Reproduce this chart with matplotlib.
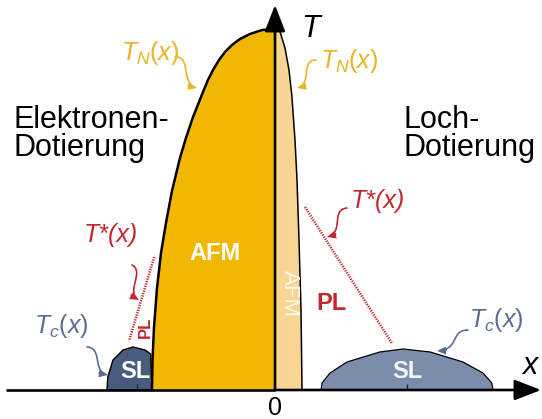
import matplotlib
matplotlib.use("Agg")
import numpy as np
import matplotlib.pyplot as plt

plt.rcParams["font.family"] = ["Liberation Sans", "DejaVu Sans"]
plt.rcParams["mathtext.fontset"] = "custom"
plt.rcParams["mathtext.it"] = "Liberation Sans:italic"
plt.rcParams["mathtext.rm"] = "Liberation Sans"

# --- phase boundaries (doping x, temperature T) ---
# Neel line, electron-doped side
afm_e_x = [0, -0.0163, -0.0313, -0.0438, -0.0538, -0.0625, -0.070, -0.0775, -0.0838,
           -0.090, -0.1025, -0.1113, -0.1188, -0.1288, -0.1363, -0.1425, -0.1475,
           -0.1513, -0.1531, -0.1538]
afm_e_T = [361, 360, 356, 351, 345, 338, 330, 320, 310, 298, 273, 252, 232, 199,
           167, 137, 102, 62, 30, 0]
# Neel line, hole-doped side
afm_h_x = [0, 0.006, 0.0125, 0.0175, 0.021, 0.025, 0.0275, 0.030, 0.0325, 0.0338]
afm_h_T = [361, 359, 342, 320, 295, 250, 210, 150, 80, 0]
# superconducting domes
sc_e_x = [-0.210, -0.209, -0.2025, -0.190, -0.1775, -0.1625, -0.1555, -0.1537]
sc_e_T = [0, 13, 30, 40, 43, 40, 36, 0]
sc_h_x = [0.0575, 0.0588, 0.0688, 0.090, 0.131, 0.160, 0.194, 0.235, 0.260, 0.271, 0.2725]
sc_h_T = [0, 7, 17, 28, 38, 41, 38, 28, 17, 7, 0]
# pseudogap crossover T*
tstar_e_x = [-0.151, -0.1825]
tstar_e_T = [133, 49]
tstar_h_x = [0.0375, 0.146]
tstar_h_T = [183, 47]
# optimal doping markers
opt_x = [-0.1725, 0.165]

GOLD = "#F2B700"
GOLD_LIGHT = "#F8D592"
GOLD_TEXT = "#E9B523"
SC_DARK = "#4A5C7E"
SC_LIGHT = "#7B8DAB"
SLATE = "#5B6E90"
RED = "#C1272D"

fig = plt.figure(figsize=(5.42, 4.19), dpi=100)
ax = fig.add_axes([0, 0, 1, 1])
ax.set_xlim(-275 / 800, 267 / 800)
ax.set_ylim(-29, 390)
ax.axis("off")


def fig_pt(u, v):
    """Figure pixel (from top-left) -> data coordinates."""
    return ((u - 275) / 800, 390 - v)


# antiferromagnetic regions
ax.fill(afm_e_x + [0], afm_e_T + [0], color=GOLD, lw=0, zorder=1)
ax.fill(afm_h_x + [0], afm_h_T + [0], color=GOLD_LIGHT, lw=0, zorder=1)
ax.plot(afm_e_x, afm_e_T, color="black", lw=1.8, zorder=3, solid_joinstyle="round")
ax.plot(afm_h_x, afm_h_T, color="black", lw=1.1, zorder=3, solid_joinstyle="round")

# superconducting domes
ax.fill(sc_e_x, sc_e_T, facecolor=SC_DARK, edgecolor="black", lw=1.0, zorder=2)
ax.fill(sc_h_x, sc_h_T, facecolor=SC_LIGHT, edgecolor="black", lw=0.9, zorder=2)
ax.vlines(opt_x, 0, 6, color="#222222", lw=1.0, zorder=3)

# T* lines
ax.plot(tstar_e_x, tstar_e_T, color=RED, lw=1.8, ls=(0, (0.5, 0.5)), zorder=2)
ax.plot(tstar_h_x, tstar_h_T, color=RED, lw=1.8, ls=(0, (0.5, 0.5)), zorder=2)

# axes with arrows
for tip in (fig_pt(541, 390), fig_pt(275, 5)):
    ax.annotate("", xy=tip, xytext=(0, 0),
                arrowprops=dict(arrowstyle="-|>,head_length=0.9,head_width=0.35",
                                color="black", lw=1.9, mutation_scale=18,
                                shrinkA=0, shrinkB=0), zorder=5)
ax.plot([fig_pt(6, 390)[0], 0], [0, 0], color="black", lw=1.9, zorder=5,
        solid_capstyle="butt")

# text
big = 22
ax.text(*fig_pt(13, 128), "Elektronen-", fontsize=big, ha="left", va="baseline")
ax.text(*fig_pt(13, 156), "Dotierung", fontsize=big, ha="left", va="baseline")
ax.text(*fig_pt(404, 128), "Loch-", fontsize=big, ha="left", va="baseline")
ax.text(*fig_pt(404, 156), "Dotierung", fontsize=big, ha="left", va="baseline")
ax.text(*fig_pt(301, 37), "T", fontsize=22, style="italic", ha="left", va="baseline")
ax.text(*fig_pt(522, 374), "x", fontsize=22, style="italic", ha="left", va="baseline")
ax.text(*fig_pt(275, 415), "0", fontsize=18, ha="center", va="baseline")

ax.text(*fig_pt(215, 254), "AFM", fontsize=17, weight="bold", color="white",
        ha="center", va="center", zorder=4)
ax.text(*fig_pt(289, 294), "AFM", fontsize=16, color="#FFF9EE", rotation=-90,
        ha="center", va="center", zorder=4)
ax.text(*fig_pt(331, 304), "PL", fontsize=17, weight="bold", color=RED,
        ha="center", va="center")
ax.text(*fig_pt(145, 327), "PL", fontsize=12, weight="bold", color=RED,
        rotation=90, ha="center", va="center")
ax.text(*fig_pt(135, 371), "SL", fontsize=17, weight="bold", color="white",
        ha="center", va="center", zorder=4)
ax.text(*fig_pt(407, 371), "SL", fontsize=17, weight="bold", color="#F4F6FA",
        ha="center", va="center", zorder=4)

lab = 18
ax.text(*fig_pt(121, 60), r"$T_{N}\mathit{(x)}$", fontsize=lab, color=GOLD_TEXT, va="baseline")
ax.text(*fig_pt(320, 68), r"$T_{N}\mathit{(x)}$", fontsize=lab, color=GOLD_TEXT, va="baseline")
ax.text(*fig_pt(84, 242), "T*(x)", fontsize=lab, style="italic", color=RED, va="baseline")
ax.text(*fig_pt(351, 208), "T*(x)", fontsize=lab, style="italic", color=RED, va="baseline")
ax.text(*fig_pt(34, 333), r"$T_{c}\mathit{(x)}$", fontsize=lab, color=SLATE, va="baseline")
ax.text(*fig_pt(469, 327), r"$T_{c}\mathit{(x)}$", fontsize=lab, color=SLATE, va="baseline")

# curly pointer arrows: cubic Bezier in pixel space, flattened, with a filled head
squiggles = [
    ([(175, 57), (192, 56), (180, 84), (197, 88)], GOLD_TEXT),
    ([(316, 60), (300, 60), (313, 84), (297, 88)], GOLD_TEXT),
    ([(132, 265), (145, 272), (125, 292), (139, 300)], RED),
    ([(347, 208), (330, 210), (345, 232), (327, 237)], RED),
    ([(87, 347), (103, 348), (92, 372), (108, 375)], SLATE),
    ([(468, 330), (450, 330), (460, 350), (437, 351)], SLATE),
]
s = np.linspace(0, 1, 60)[:, None]
head_len, head_half = 9.0, 4.0
for pts, col in squiggles:
    p = np.array(pts, dtype=float)
    curve = ((1 - s) ** 3 * p[0] + 3 * (1 - s) ** 2 * s * p[1]
             + 3 * (1 - s) * s ** 2 * p[2] + s ** 3 * p[3])
    tip = curve[-1]
    d = tip - p[2]
    d /= np.hypot(*d)
    n = np.array([-d[1], d[0]])
    base = tip - head_len * d
    keep = np.hypot(*(curve - tip).T) > head_len - 1
    line = np.vstack([curve[keep], base])
    xy = np.array([fig_pt(u, v) for u, v in line])
    ax.plot(xy[:, 0], xy[:, 1], color=col, lw=1.2, zorder=4, solid_capstyle="round")
    tri = np.array([fig_pt(*tip), fig_pt(*(base + head_half * n)), fig_pt(*(base - head_half * n))])
    ax.fill(tri[:, 0], tri[:, 1], color=col, lw=0, zorder=4)

fig.savefig("out.png", dpi=100)
